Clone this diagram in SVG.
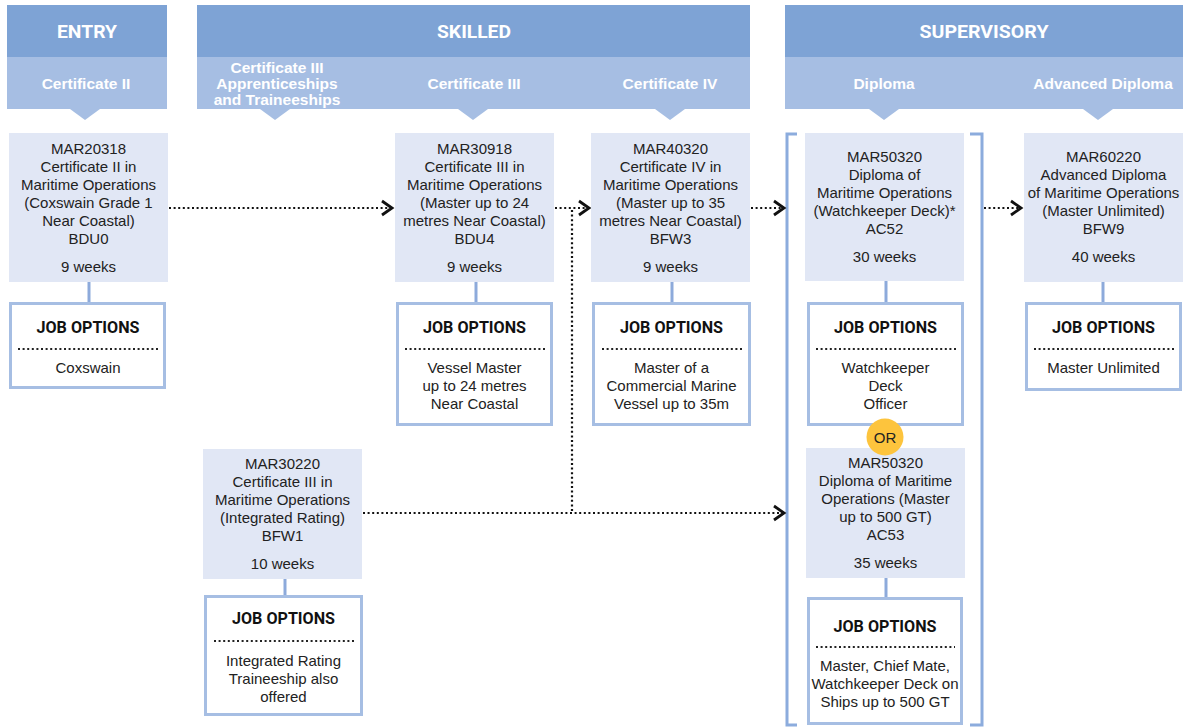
<svg xmlns="http://www.w3.org/2000/svg" width="1183" height="727" viewBox="0 0 1183 727">
<style>
.hd{fill:#7EA3D5}
.sh{fill:#A6BEE3}
.ht{font-family:Roboto,"Liberation Sans",sans-serif;font-weight:700;font-size:18px;fill:#fff;text-anchor:middle}
.st{font-family:"Liberation Sans",Arial,sans-serif;font-weight:700;font-size:15.5px;fill:#fff;text-anchor:middle}
.box{fill:#E1E7F5}
.job{fill:#fff;stroke:#A6BEE3;stroke-width:3}
.bt{font-family:"Liberation Sans",Arial,sans-serif;font-size:15px;fill:#222;text-anchor:middle}
.jt{font-family:Roboto,"Liberation Sans",sans-serif;font-weight:700;font-size:17px;fill:#111;text-anchor:middle}
.dl{stroke:#222;stroke-width:2;stroke-dasharray:2 2.6;fill:none}
.stem{stroke:#8DAADB;stroke-width:3}
.con{stroke:#111;stroke-width:2.2;stroke-dasharray:2 2.6;fill:none}
.brk{stroke:#8CACDD;stroke-width:3;fill:none}
</style>
<defs>
<marker id="chev" markerUnits="userSpaceOnUse" markerWidth="16" markerHeight="20" viewBox="0 0 16 20" refX="13" refY="10" orient="auto">
<path d="M3,3 L13,10 L3,17" fill="none" stroke="#111" stroke-width="2.8" stroke-dasharray="none"/>
</marker>
</defs>

<g id="header-entry">
<rect class="hd" x="7" y="5" width="160" height="52"/>
<rect class="sh" x="7" y="57" width="160" height="52"/>
<text class="ht" x="87" y="38" textLength="60" lengthAdjust="spacingAndGlyphs">ENTRY</text>
<text class="st" x="86" y="89">Certificate II</text>
<polygon class="sh" points="70,109 100,109 85,120"/>
</g>

<g id="header-skilled">
<rect class="hd" x="197" y="5" width="553" height="52"/>
<rect class="sh" x="197" y="57" width="553" height="52"/>
<text class="ht" x="474" y="38" textLength="74" lengthAdjust="spacingAndGlyphs">SKILLED</text>
<text class="st" x="277" y="73">Certificate III</text>
<text class="st" x="277" y="89">Apprenticeships</text>
<text class="st" x="277" y="105">and Traineeships</text>
<text class="st" x="474" y="89">Certificate III</text>
<text class="st" x="670" y="89">Certificate IV</text>
<polygon class="sh" points="260,109 290,109 275,120"/>
<polygon class="sh" points="458,109 488,109 473,120"/>
<polygon class="sh" points="655,109 685,109 670,120"/>
</g>

<g id="header-supervisory">
<rect class="hd" x="785" y="5" width="398" height="52"/>
<rect class="sh" x="785" y="57" width="398" height="52"/>
<text class="ht" x="984" y="38" textLength="129" lengthAdjust="spacingAndGlyphs">SUPERVISORY</text>
<text class="st" x="884" y="89">Diploma</text>
<text class="st" x="1103" y="89">Advanced Diploma</text>
<polygon class="sh" points="869,109 899,109 884,120"/>
<polygon class="sh" points="1083,109 1113,109 1098,120"/>
</g>

<g id="connectors">
<polyline class="brk" points="797,134 787,134 787,725 797,725"/>
<polyline class="brk" points="970,134 982,134 982,725 970,725"/>
<line class="stem" x1="89" y1="282" x2="89" y2="302"/>
<line class="stem" x1="476" y1="282" x2="476" y2="302"/>
<line class="stem" x1="672" y1="282" x2="672" y2="302"/>
<line class="stem" x1="886" y1="281" x2="886" y2="302"/>
<line class="stem" x1="1103" y1="282" x2="1103" y2="302"/>
<line class="stem" x1="285" y1="579" x2="285" y2="595"/>
<line class="stem" x1="886" y1="578" x2="886" y2="597"/>
<line class="con" x1="169" y1="208" x2="392" y2="208" marker-end="url(#chev)"/>
<line class="con" x1="555" y1="208" x2="589" y2="208" marker-end="url(#chev)"/>
<line class="con" x1="751" y1="208" x2="784" y2="208" marker-end="url(#chev)"/>
<line class="con" x1="984" y1="208" x2="1021" y2="208" marker-end="url(#chev)"/>
<line class="con" x1="363" y1="513" x2="784" y2="513" marker-end="url(#chev)"/>
<line class="con" x1="572" y1="210" x2="572" y2="512"/>
</g>

<g id="node-mar20318">
<rect class="box" x="9" y="133" width="159" height="149"/>
<text class="bt" x="88.5" y="154">MAR20318</text>
<text class="bt" x="88.5" y="172">Certificate II in</text>
<text class="bt" x="88.5" y="190">Maritime Operations</text>
<text class="bt" x="88.5" y="208">(Coxswain Grade 1</text>
<text class="bt" x="88.5" y="226">Near Coastal)</text>
<text class="bt" x="88.5" y="244">BDU0</text>
<text class="bt" x="88.5" y="272">9 weeks</text>
</g>
<g id="job-mar20318">
<rect class="job" x="10.5" y="303.5" width="154" height="84"/>
<text class="jt" x="88" y="333" textLength="103" lengthAdjust="spacingAndGlyphs">JOB OPTIONS</text>
<line class="dl" x1="18" y1="349" x2="158" y2="349"/>
<text class="bt" x="88" y="373">Coxswain</text>
</g>

<g id="node-mar30918">
<rect class="box" x="395" y="133" width="159" height="149"/>
<text class="bt" x="474.5" y="154">MAR30918</text>
<text class="bt" x="474.5" y="172">Certificate III in</text>
<text class="bt" x="474.5" y="190">Maritime Operations</text>
<text class="bt" x="474.5" y="208">(Master up to 24</text>
<text class="bt" x="474.5" y="226">metres Near Coastal)</text>
<text class="bt" x="474.5" y="244">BDU4</text>
<text class="bt" x="474.5" y="272">9 weeks</text>
</g>
<g id="job-mar30918">
<rect class="job" x="397.5" y="303.5" width="154" height="121"/>
<text class="jt" x="474.5" y="333" textLength="103" lengthAdjust="spacingAndGlyphs">JOB OPTIONS</text>
<line class="dl" x1="405" y1="349" x2="545" y2="349"/>
<text class="bt" x="474.5" y="373">Vessel Master</text>
<text class="bt" x="474.5" y="391">up to 24 metres</text>
<text class="bt" x="474.5" y="409">Near Coastal</text>
</g>

<g id="node-mar40320">
<rect class="box" x="591" y="133" width="159" height="149"/>
<text class="bt" x="670.5" y="154">MAR40320</text>
<text class="bt" x="670.5" y="172">Certificate IV in</text>
<text class="bt" x="670.5" y="190">Maritime Operations</text>
<text class="bt" x="670.5" y="208">(Master up to 35</text>
<text class="bt" x="670.5" y="226">metres Near Coastal)</text>
<text class="bt" x="670.5" y="244">BFW3</text>
<text class="bt" x="670.5" y="272">9 weeks</text>
</g>
<g id="job-mar40320">
<rect class="job" x="593.5" y="303.5" width="156" height="121"/>
<text class="jt" x="671.5" y="333" textLength="103" lengthAdjust="spacingAndGlyphs">JOB OPTIONS</text>
<line class="dl" x1="602" y1="349" x2="742" y2="349"/>
<text class="bt" x="671.5" y="373">Master of a</text>
<text class="bt" x="671.5" y="391">Commercial Marine</text>
<text class="bt" x="671.5" y="409">Vessel up to 35m</text>
</g>

<g id="node-mar50320-ac52">
<rect class="box" x="805" y="133" width="159" height="148"/>
<text class="bt" x="884.5" y="162">MAR50320</text>
<text class="bt" x="884.5" y="180">Diploma of</text>
<text class="bt" x="884.5" y="198">Maritime Operations</text>
<text class="bt" x="884.5" y="216">(Watchkeeper Deck)*</text>
<text class="bt" x="884.5" y="234">AC52</text>
<text class="bt" x="884.5" y="262">30 weeks</text>
</g>
<g id="job-mar50320-ac52">
<rect class="job" x="808.5" y="303.5" width="154" height="121"/>
<text class="jt" x="885.5" y="333" textLength="103" lengthAdjust="spacingAndGlyphs">JOB OPTIONS</text>
<line class="dl" x1="816" y1="349" x2="956" y2="349"/>
<text class="bt" x="885.5" y="373">Watchkeeper</text>
<text class="bt" x="885.5" y="391">Deck</text>
<text class="bt" x="885.5" y="409">Officer</text>
</g>

<g id="node-mar50320-ac53">
<rect class="box" x="806" y="448" width="159" height="130"/>
<text class="bt" x="885.5" y="468">MAR50320</text>
<text class="bt" x="885.5" y="486">Diploma of Maritime</text>
<text class="bt" x="885.5" y="504">Operations (Master</text>
<text class="bt" x="885.5" y="522">up to 500 GT)</text>
<text class="bt" x="885.5" y="540">AC53</text>
<text class="bt" x="885.5" y="568">35 weeks</text>
</g>
<g id="job-mar50320-ac53">
<rect class="job" x="808.5" y="598.5" width="153" height="125"/>
<text class="jt" x="885" y="632" textLength="103" lengthAdjust="spacingAndGlyphs">JOB OPTIONS</text>
<line class="dl" x1="816" y1="647" x2="955" y2="647"/>
<text class="bt" x="885" y="671">Master, Chief Mate,</text>
<text class="bt" x="885" y="689">Watchkeeper Deck on</text>
<text class="bt" x="885" y="707">Ships up to 500 GT</text>
</g>

<g id="or-badge">
<circle cx="885" cy="437" r="18.5" fill="#FDC43D"/>
<text class="bt" x="885" y="442.5">OR</text>
</g>

<g id="node-mar60220">
<rect class="box" x="1024" y="133" width="159" height="149"/>
<text class="bt" x="1103.5" y="162">MAR60220</text>
<text class="bt" x="1103.5" y="180">Advanced Diploma</text>
<text class="bt" x="1103.5" y="198">of Maritime Operations</text>
<text class="bt" x="1103.5" y="216">(Master Unlimited)</text>
<text class="bt" x="1103.5" y="234">BFW9</text>
<text class="bt" x="1103.5" y="262">40 weeks</text>
</g>
<g id="job-mar60220">
<rect class="job" x="1026.5" y="303.5" width="154" height="86"/>
<text class="jt" x="1103.5" y="333" textLength="103" lengthAdjust="spacingAndGlyphs">JOB OPTIONS</text>
<line class="dl" x1="1034" y1="349" x2="1174" y2="349"/>
<text class="bt" x="1103.5" y="373">Master Unlimited</text>
</g>

<g id="node-mar30220">
<rect class="box" x="203" y="449" width="159" height="130"/>
<text class="bt" x="282.5" y="469">MAR30220</text>
<text class="bt" x="282.5" y="487">Certificate III in</text>
<text class="bt" x="282.5" y="505">Maritime Operations</text>
<text class="bt" x="282.5" y="523">(Integrated Rating)</text>
<text class="bt" x="282.5" y="541">BFW1</text>
<text class="bt" x="282.5" y="569">10 weeks</text>
</g>
<g id="job-mar30220">
<rect class="job" x="205.5" y="596.5" width="156" height="118"/>
<text class="jt" x="283.5" y="624" textLength="103" lengthAdjust="spacingAndGlyphs">JOB OPTIONS</text>
<line class="dl" x1="214" y1="641" x2="354" y2="641"/>
<text class="bt" x="283.5" y="666">Integrated Rating</text>
<text class="bt" x="283.5" y="684">Traineeship also</text>
<text class="bt" x="283.5" y="702">offered</text>
</g>
</svg>
